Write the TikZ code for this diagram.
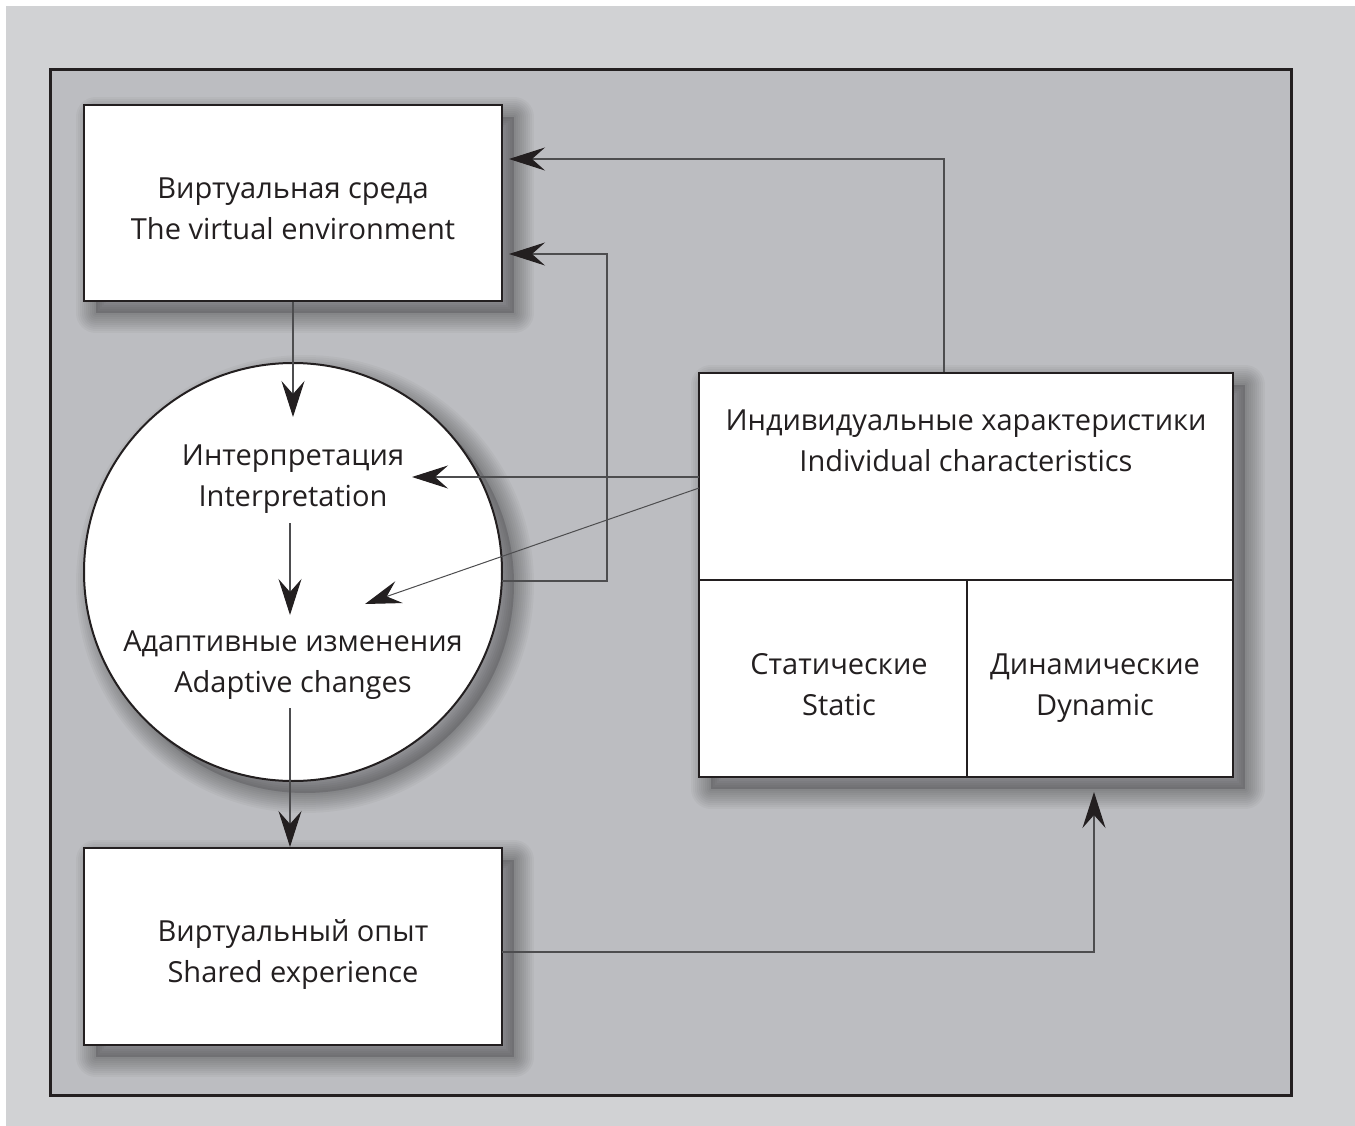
\documentclass[tikz,border=0pt]{standalone}
\usepackage{fontspec}
\setmainfont{Open Sans}
\usetikzlibrary{arrows.meta}
\definecolor{outerbg}{HTML}{D1D2D4}
\definecolor{innerbg}{HTML}{BCBDC1}
\definecolor{dk}{HTML}{231F20}
\definecolor{linec}{HTML}{4D4D4F}
\begin{document}
\begin{tikzpicture}[x=1pt,y=-1pt,
  every node/.style={text=dk, font=\fontsize{29}{41}\selectfont, align=center, inner sep=0pt},
  boxn/.style={draw=dk, line width=2, fill=white, rectangle},
  circn/.style={draw=dk, line width=2, fill=white, circle},
  shad/.style={draw=black, line join=round},
  arr/.style={draw=linec, line width=1.2, -{Stealth[length=36pt,width=23pt,inset=13pt,color=dk]}},
  ln/.style={draw=linec, line width=1.2}
]
\useasboundingbox (0,0) rectangle (1355,1126);
\fill[white] (0,0) rectangle (1355,1126);
\fill[outerbg] (6,6) rectangle (1355,1126);
\draw[line width=3, fill=innerbg, draw=dk] (50,70) rectangle (1291,1095);
% drop shadows
\begin{scope}[shift={(12,12)}]
  \fill[black, opacity=0.15] (84,105) rectangle (502,301);
  \fill[black, opacity=0.15] (84,848) rectangle (502,1045);
  \fill[black, opacity=0.15] (699,373) rectangle (1233,777);
  \fill[black, opacity=0.15] (293,572) circle (209);
  \foreach \w in {4,8,...,40} {
    \draw[shad, line width=\w, opacity=0.03] (84,105) rectangle (502,301);
    \draw[shad, line width=\w, opacity=0.03] (84,848) rectangle (502,1045);
    \draw[shad, line width=\w, opacity=0.03] (699,373) rectangle (1233,777);
    \draw[shad, line width=\w, opacity=0.03] (293,572) circle (209);
  }
\end{scope}
% shapes
\node[boxn, minimum width=418pt, minimum height=196pt] (top) at (293,203) {};
\node[circn, minimum size=418pt] (circ) at (293,572) {};
\node[boxn, minimum width=418pt, minimum height=197pt] (bot) at (293,946.5) {};
\node[boxn, minimum width=534pt, minimum height=404pt, line width=2.5] (rbox) at (966,575) {};
% texts
\node (toptxt) at (293,211) {\strut Виртуальная среда\\\strut The virtual environment};
\node (interp) at (293,478) {\strut Интерпретация\\\strut Interpretation};
\node (adapt) at (293,664) {\strut Адаптивные изменения\\\strut Adaptive changes};
\node (bottxt) at (293,954) {\strut Виртуальный опыт\\\strut Shared experience};
\node (ind) at (966,443) {\strut Индивидуальные характеристики\\\strut Individual characteristics};
\node (stat) at (839,687) {\strut Статические\\\strut Static};
\node (dyn) at (1095,687) {\strut Динамические\\\strut Dynamic};
% dividers
\coordinate (dl) at (699,580);
\coordinate (dr) at (1233,580);
\coordinate (dm) at (967,580);
\draw[dk, line width=2.5] (dl) -- (dr);
\draw[dk, line width=2.5] (dm) -- (dm |- rbox.south);
% connectors
\coordinate (t1) at (509,159);
\coordinate (c1) at (944,159);
\draw[arr] (rbox.north -| c1) -- (c1) -- (t1);
\coordinate (t2) at (509,254);
\coordinate (s2) at (502,581);
\coordinate (c2a) at (607,581);
\coordinate (c2b) at (607,254);
\draw[arr] (s2) -- (c2a) -- (c2b) -- (t2);
\coordinate (s3) at (699,477);
\coordinate (t3) at (412,477);
\draw[arr] (s3) -- (t3);
\coordinate (s4) at (699,488);
\coordinate (t4) at (365,604);
\draw[arr, line width=1] (s4) -- (t4);
\coordinate (t5) at (293,417);
\draw[arr] (top.south) -- (t5);
\coordinate (s6) at (290,523);
\coordinate (t6) at (290,615);
\draw[arr] (s6) -- (t6);
\coordinate (s7) at (290,708);
\draw[arr] (s7) -- (bot.north -| s7);
\coordinate (s8) at (502,952);
\coordinate (c8) at (1094,952);
\coordinate (t8) at (1094,792);
\draw[arr] (s8) -- (c8) -- (t8);
\end{tikzpicture}
\end{document}
